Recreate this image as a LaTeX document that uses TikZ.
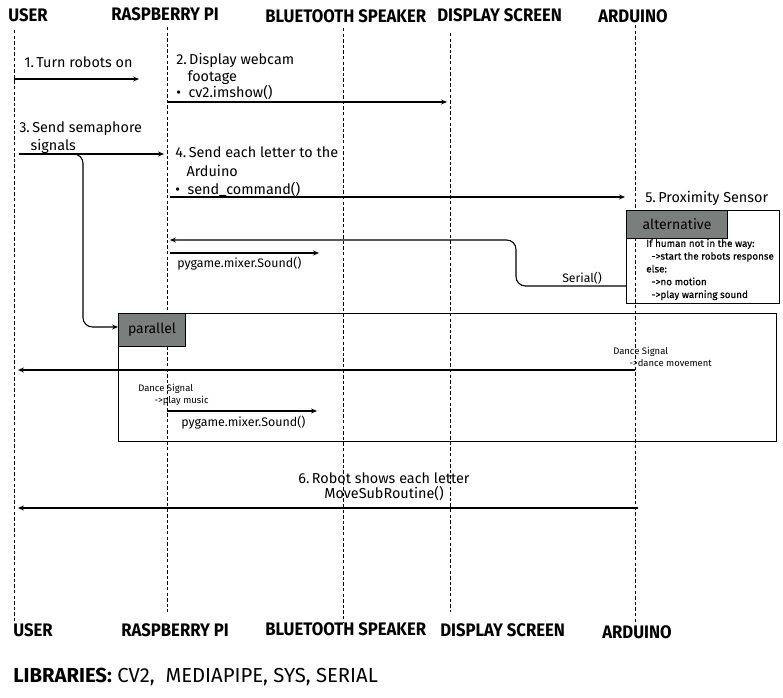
\documentclass[tikz,border=0pt]{standalone}
\usepackage{fontspec}
\setmainfont{Fira Sans}
\newfontfamily\hdfont[FakeStretch=0.92]{Fira Sans}
\usetikzlibrary{arrows.meta}
\definecolor{hdrgray}{RGB}{122,126,124}
\tikzset{
  lifeline/.style={draw=black, line width=0.6pt, dash pattern=on 2.6pt off 1.6pt},
  msg/.style={draw=black, line width=0.8pt, -{Stealth[length=4.5pt,width=3.8pt]}},
  hdr/.style={anchor=base west, inner sep=0pt, font=\hdfont\bfseries\fontsize{13.6}{15}\selectfont},
  body/.style={anchor=base west, inner sep=0pt, align=left},
  small/.style={anchor=base west, inner sep=0pt, font=\fontsize{7.1}{9}\selectfont, align=left},
  altxt/.style={anchor=base west, inner sep=0pt, font=\fontsize{7.4}{9.6}\selectfont\addfontfeature{FakeBold=0.6}, align=left},
  frame/.style={draw=black, line width=0.8pt},
  tag/.style={draw=black, line width=0.8pt, fill=hdrgray, inner sep=0pt, anchor=north west, font=\fontsize{10.5}{12}\selectfont},
}
\begin{document}
\begin{tikzpicture}[x=0.75pt,y=-0.75pt]
\useasboundingbox (0,0) rectangle (783,698);
% headers
\node[hdr] (hU) at (8,22) {USER};
\node[hdr] (hR) at (111,21) {RASPBERRY PI};
\node[hdr] (hB) at (265,22.5) {BLUETOOTH SPEAKER};
\node[hdr] (hD) at (437,22) {DISPLAY SCREEN};
\node[hdr] (hA) at (598,23) {ARDUINO};
% bottom labels
\node[hdr] (fU) at (13,637) {USER};
\node[hdr] (fR) at (121,637) {RASPBERRY PI};
\node[hdr] (fB) at (265,636) {BLUETOOTH SPEAKER};
\node[hdr] (fD) at (440,637) {DISPLAY SCREEN};
\node[hdr] (fA) at (602,639) {ARDUINO};
\node[anchor=base west, inner sep=0pt, font=\fontsize{15.2}{17}\selectfont] (lib) at (13,683)
  {{\bfseries LIBRARIES:} CV2,\ \ MEDIAPIPE, SYS, SERIAL};
% lifelines
\coordinate (uT) at (14,30);  \coordinate (uB) at (14,621);
\coordinate (rT) at (167,27); \coordinate (rB) at (167,612);
\coordinate (bT) at (343,28); \coordinate (bB) at (343,622);
\coordinate (dT) at (450,33); \coordinate (dB) at (450,612);
\coordinate (aT) at (635,25); \coordinate (aB) at (635,623);
\draw[lifeline] (uT) -- (uB);
\draw[lifeline] (rT) -- (rB);
\draw[lifeline] (bT) -- (bB);
\draw[lifeline] (dT) -- (dB);
\draw[lifeline] (aT) -- (aB);
% 1
\node[body, font=\fontsize{10.8}{12.4}\selectfont] (t1) at (24,68) {1.\,Turn robots on};
\coordinate (m1s) at (14,79); \coordinate (m1e) at (139,79);
\draw[msg] (m1s) -- (m1e);
% 2
\node[body, font=\fontsize{10.8}{12.4}\selectfont] (t2) at (176,98) {2.\,Display webcam\\\hspace{8.5pt}footage\\\textbullet\ \ cv2.imshow()};
\coordinate (m2s) at (167,102); \coordinate (m2e) at (447,102);
\draw[msg] (m2s) -- (m2e);
% 3
\node[body, font=\fontsize{10.8}{13.5}\selectfont] (t3) at (19,151) {3.\,Send semaphore\\\hspace{8.5pt}signals};
\coordinate (m3s) at (19,154); \coordinate (m3e) at (164,154);
\draw[msg] (m3s) -- (m3e);
% 4
\node[body, font=\fontsize{10.8}{13.9}\selectfont] (t4) at (175,195) {4.\,Send each letter to the\\\hspace{8.5pt}Arduino\\\textbullet\ \ send\_command()};
\coordinate (m4s) at (170,197); \coordinate (m4e) at (625,197);
\draw[msg] (m4s) -- (m4e);
% 5
\node[body, font=\fontsize{10.8}{12.4}\selectfont] (t5) at (645,203) {5.\,Proximity Sensor};
\node[frame, anchor=north west, minimum width=153*0.75pt, minimum height=93*0.75pt, inner sep=0pt] (alt) at (626,210) {};
\node[tag, minimum width=101*0.75pt, minimum height=28*0.75pt] (altTag) at (626,210) {alternative};
\node[altxt] (altT) at (646,298) {If human not in the way:\\\hspace{4pt}->start the robots response\\else:\\\hspace{4pt}->no motion\\\hspace{4pt}->play warning sound};
% serial return
\coordinate (serE) at (170,240);
\draw[msg, rounded corners=7pt] (alt.west |- 0,286) -- (516,286) -- (516,240) -- (serE);
\node[body, font=\fontsize{9.2}{11}\selectfont] (serL) at (562,283) {Serial()};
% pygame 1
\coordinate (p1s) at (170,253); \coordinate (p1e) at (319,253);
\draw[msg] (p1s) -- (p1e);
\node[body, font=\fontsize{9.3}{11}\selectfont] (p1L) at (177,268) {pygame.mixer.Sound()};
% parallel
\node[frame, anchor=north west, minimum width=658*0.75pt, minimum height=128*0.75pt, inner sep=0pt] (par) at (118,313) {};
\node[tag, minimum width=67*0.75pt, minimum height=33*0.75pt] (parTag) at (118,313) {parallel};
% semaphore branch into parallel
\draw[msg, rounded corners=7pt] (70,154) -- (83,154) -- (83,327) -- (parTag.west |- 0,327);
% dance signal
\node[small] (dsL) at (613,367) {Dance Signal\\\hspace{12pt}->dance movement};
\coordinate (dss) at (635,370); \coordinate (dse) at (18,370);
\draw[msg] (dss) -- (dse);
\node[small] (dmL) at (138,404) {Dance Signal\\\hspace{12pt}->play music};
\coordinate (p2s) at (167,411); \coordinate (p2e) at (317,411);
\draw[msg] (p2s) -- (p2e);
\node[body, font=\fontsize{9.3}{11}\selectfont] (p2L) at (181,427) {pygame.mixer.Sound()};
% 6
\node[body, align=center, anchor=base, font=\fontsize{10.8}{11.6}\selectfont] (t6) at (384,499) {6.\,Robot shows each letter\\MoveSubRoutine()};
\coordinate (m6s) at (638,508); \coordinate (m6e) at (18,508);
\draw[msg] (m6s) -- (m6e);
\end{tikzpicture}
\end{document}
